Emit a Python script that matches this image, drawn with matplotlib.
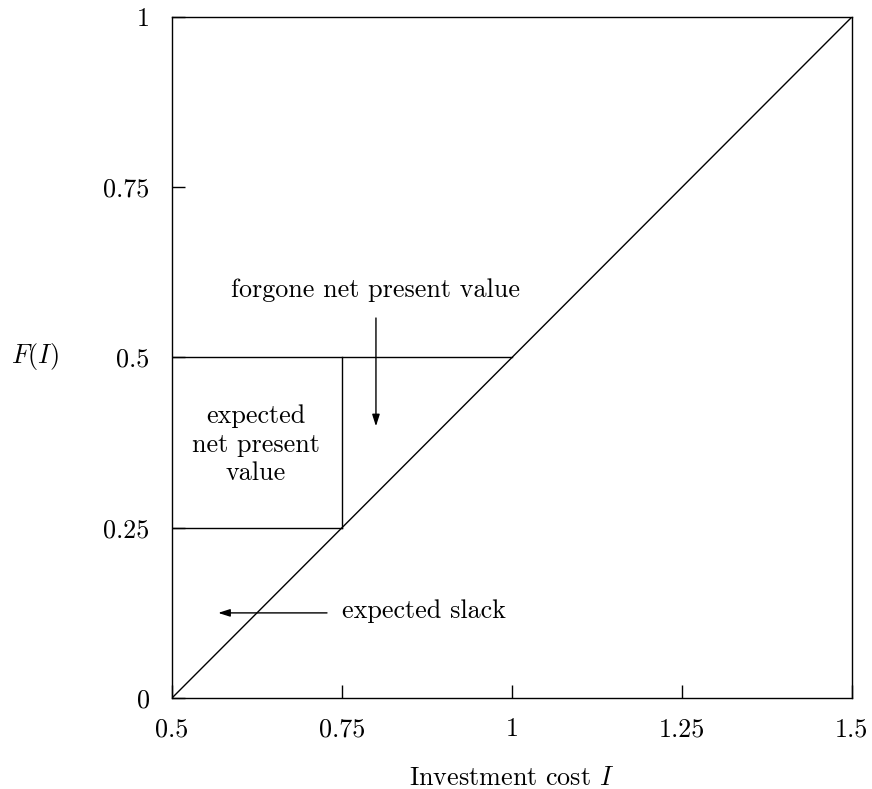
"""
Expected slack and forgone NPV diagram
"""
import matplotlib
matplotlib.use("Agg")
import matplotlib.pyplot as plt

plt.rcParams["font.family"] = "cmr10"
plt.rcParams["mathtext.fontset"] = "cm"
plt.rcParams["axes.unicode_minus"] = False
plt.rcParams["axes.formatter.use_mathtext"] = True

# diagonal F(I) = I - 0.5
diag_x = [0.5, 1.5]
diag_y = [0.0, 1.0]
# box lines
upper_x = [0.5, 1.0]
upper_y = [0.5, 0.5]
vert_x = [0.75, 0.75]
vert_y = [0.25, 0.5]
lower_x = [0.5, 0.75]
lower_y = [0.25, 0.25]

xticks = [0.5, 0.75, 1.0, 1.25, 1.5]
xtick_labels = ["0.5", "0.75", "1", "1.25", "1.5"]
yticks = [0.0, 0.25, 0.5, 0.75, 1.0]
ytick_labels = ["0", "0.25", "0.5", "0.75", "1"]

FS = 18.8

fig = plt.figure(figsize=(8.72, 7.89), dpi=100)
ax = fig.add_axes([0.1972, 0.1153, 0.7798, 0.8632])

lw = 1.0
ax.plot(diag_x, diag_y, color="black", lw=lw)
ax.plot(upper_x, upper_y, color="black", lw=lw)
ax.plot(vert_x, vert_y, color="black", lw=lw)
ax.plot(lower_x, lower_y, color="black", lw=lw)

ax.set_xlim(0.5, 1.5)
ax.set_ylim(0, 1)
ax.set_xticks(xticks)
ax.set_xticklabels(xtick_labels)
ax.set_yticks(yticks)
ax.set_yticklabels(ytick_labels)
ax.tick_params(direction="in", length=9.4, width=1.0, labelsize=FS)
ax.tick_params(axis="x", pad=14)
ax.tick_params(axis="y", pad=16)
for sp in ax.spines.values():
    sp.set_linewidth(1.0)

# axis labels placed in figure coords
fig.text(0.587, 1 - 785 / 789, "Investment cost $I$", fontsize=FS, ha="center", va="baseline")
fig.text(0.040, 1 - 357 / 789, "$F(I)$", fontsize=FS, ha="center", va="center")

arrow = dict(arrowstyle="-|>,head_length=0.5,head_width=0.16", color="black", lw=1.0,
             mutation_scale=14, shrinkA=0, shrinkB=0)
ax.annotate("", xy=(0.8, 0.399), xytext=(0.8, 0.558), arrowprops=arrow)
ax.annotate("", xy=(0.568, 0.125), xytext=(0.728, 0.125), arrowprops=arrow)

ax.text(0.8, 0.589, "forgone net present value", fontsize=FS, ha="center", va="baseline")
npv_lines = ["expected", "net present", "value"]
npv_base = [0.404, 0.361, 0.320]
for txt, yb in zip(npv_lines, npv_base):
    ax.text(0.623, yb, txt, fontsize=FS, ha="center", va="baseline")
ax.text(0.75, 0.1175, "expected slack", fontsize=FS, ha="left", va="baseline")

fig.savefig("out.png", dpi=100)
